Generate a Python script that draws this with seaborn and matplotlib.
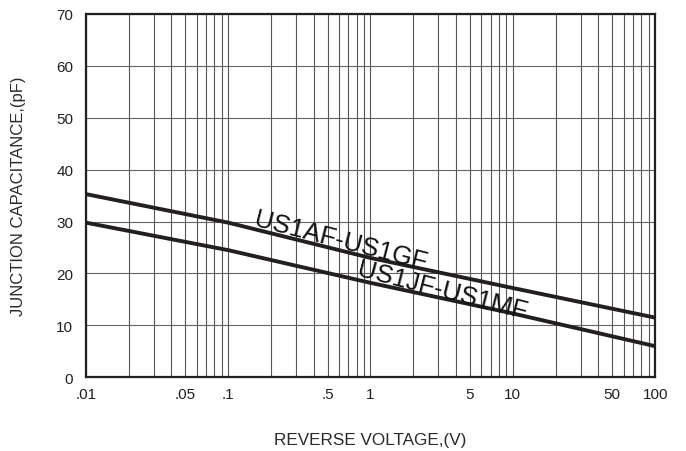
import numpy as np
import pandas as pd
import matplotlib
matplotlib.use('Agg')
import matplotlib.pyplot as plt
import seaborn as sns

# values
voltage = [0.01, 0.1, 1, 10, 100]
cap_af_gf = [35.3, 29.8, 23.0, 17.2, 11.5]
cap_jf_mf = [29.8, 24.5, 18.2, 12.3, 6.0]
series_names = ['US1AF-US1GF', 'US1JF-US1MF']
xtick_vals = [0.01, 0.05, 0.1, 0.5, 1, 5, 10, 50, 100]
xtick_labels = ['.01', '.05', '.1', '.5', '1', '5', '10', '50', '100']
ytick_vals = [0, 10, 20, 30, 40, 50, 60, 70]

sns.set_theme(style='white')
plt.rcParams['font.family'] = ['Liberation Sans', 'DejaVu Sans']

df = pd.DataFrame({
    'V': voltage * 2,
    'C': cap_af_gf + cap_jf_mf,
    'part': [series_names[0]] * len(voltage) + [series_names[1]] * len(voltage),
})

fig, ax = plt.subplots(figsize=(6.86, 4.52), dpi=100)
fig.subplots_adjust(left=0.125, right=0.955, top=0.967, bottom=0.163)

sns.lineplot(data=df, x='V', y='C', hue='part', palette=['#231f20', '#231f20'],
             linewidth=2.8, legend=False, ax=ax, zorder=3)

ax.set_xscale('log')
ax.set_xlim(0.01, 100)
ax.set_ylim(0, 70)

# log grid: decades and 2..9 subdivisions
minor = [m * 10.0 ** d for d in range(-2, 2) for m in range(2, 10)]
ax.set_xticks(minor, minor=True)
ax.set_xticks(xtick_vals)
ax.set_xticklabels(xtick_labels)
ax.set_yticks(ytick_vals)
ax.grid(True, which='both', axis='x', color='#555555', linewidth=0.8)
ax.grid(True, which='major', axis='y', color='#666666', linewidth=0.8)
ax.tick_params(which='both', length=0, labelsize=11, colors='#231f20')
ax.tick_params(axis='x', pad=7)
ax.tick_params(axis='y', pad=9)

for s in ax.spines.values():
    s.set_color('#231f20')
    s.set_linewidth(1.6)

ax.set_xlabel('REVERSE VOLTAGE,(V)', fontsize=12.3, color='#2a2a2a', labelpad=22)
ax.set_ylabel('JUNCTION CAPACITANCE,(pF)', fontsize=12, color='#2a2a2a', labelpad=22)

ax.text(0.62, 26.4, series_names[0], fontsize=18.5, rotation=-14.5, ha='center',
        va='center', color='#111111', rotation_mode='anchor')
ax.text(3.2, 16.9, series_names[1], fontsize=18.5, rotation=-14.5, ha='center',
        va='center', color='#111111', rotation_mode='anchor')

fig.savefig('out.png', dpi=100)
